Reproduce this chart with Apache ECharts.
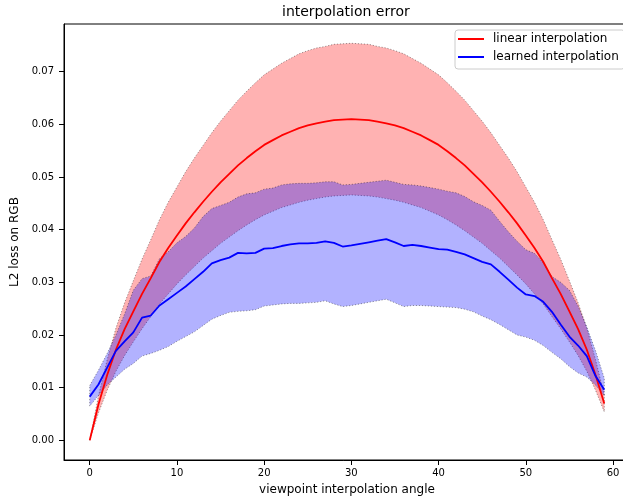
<!DOCTYPE html>
<html>
<head>
<meta charset="utf-8">
<script src="https://cdn.jsdelivr.net/npm/echarts@6/dist/echarts.min.js"></script>
<style>html,body{margin:0;padding:0;background:#fff}#c{width:623px;height:499px}</style>
</head>
<body>
<div id="c"></div>
<script>
const angles = Array.from({length: 60}, (_, i) => i);

const linearMean = [0,0.0068,0.0124,0.0172,0.0211,0.0245,0.0278,0.0308,0.0339,0.0365,
0.0389,0.0412,0.0433,0.0453,0.0472,0.0490,0.0506,0.0522,0.0536,0.0549,
0.0561,0.0570,0.0579,0.0586,0.0593,0.0598,0.0602,0.0605,0.0608,0.0609,
0.0610,0.0609,0.0608,0.0605,0.0602,0.0598,0.0593,0.0586,0.0579,0.0570,
0.0561,0.0549,0.0536,0.0522,0.0506,0.0490,0.0472,0.0453,0.0433,0.0412,
0.0389,0.0365,0.0339,0.0308,0.0278,0.0245,0.0211,0.0172,0.0124,0.0070];

const linearStd = [0,0.0016,0.0029,0.0041,0.0050,0.0058,0.0066,0.0073,0.0080,0.0087,
0.0092,0.0098,0.0103,0.0107,0.0112,0.0116,0.0120,0.0124,0.0127,0.0130,
0.0133,0.0135,0.0137,0.0139,0.0141,0.0142,0.0143,0.0143,0.0144,0.0144,
0.0144,0.0144,0.0144,0.0143,0.0143,0.0142,0.0141,0.0139,0.0137,0.0135,
0.0133,0.0130,0.0127,0.0124,0.0120,0.0116,0.0112,0.0107,0.0103,0.0098,
0.0092,0.0087,0.0080,0.0073,0.0066,0.0058,0.0050,0.0041,0.0029,0.0016];

const learnedMean = [0.0083,0.0106,0.0138,0.0170,0.0188,0.0205,0.0233,0.0237,0.0256,0.0268,
0.0280,0.0292,0.0306,0.0320,0.0336,0.0342,0.0347,0.0356,0.0355,0.0356,
0.0364,0.0365,0.0369,0.0372,0.0374,0.0374,0.0375,0.0378,0.0375,0.0368,
0.0370,0.0373,0.0376,0.0379,0.0382,0.0376,0.0369,0.0371,0.0369,0.0366,
0.0363,0.0362,0.0358,0.0353,0.0346,0.0339,0.0334,0.0320,0.0305,0.0290,
0.0277,0.0274,0.0263,0.0244,0.0220,0.0197,0.0180,0.0160,0.0122,0.0096];

const learnedUpper = [0.0104,0.0133,0.0165,0.0200,0.0240,0.0285,0.0307,0.0312,0.0345,0.0358,
0.0375,0.0387,0.0403,0.0425,0.0440,0.0446,0.0452,0.0462,0.0468,0.0470,
0.0477,0.0479,0.0485,0.0487,0.0488,0.0488,0.0489,0.0491,0.0491,0.0485,
0.0486,0.0488,0.0490,0.0492,0.0494,0.0490,0.0486,0.0485,0.0483,0.0480,
0.0477,0.0473,0.0470,0.0463,0.0453,0.0446,0.0437,0.0416,0.0396,0.0378,
0.0362,0.0355,0.0337,0.0311,0.0300,0.0285,0.0255,0.0215,0.0170,0.0118];

const learnedLower = [0.0065,0.0085,0.0105,0.0120,0.0135,0.0146,0.0160,0.0165,0.0171,0.0178,
0.0188,0.0197,0.0206,0.0218,0.0230,0.0237,0.0243,0.0245,0.0246,0.0248,
0.0255,0.0257,0.0259,0.0260,0.0260,0.0261,0.0262,0.0265,0.0259,0.0254,
0.0256,0.0259,0.0262,0.0265,0.0268,0.0261,0.0254,0.0256,0.0256,0.0255,
0.0254,0.0253,0.0252,0.0249,0.0244,0.0236,0.0229,0.0220,0.0210,0.0200,
0.0196,0.0190,0.0180,0.0167,0.0155,0.0140,0.0128,0.0120,0.0105,0.0085];

const xTicks = [0, 10, 20, 30, 40, 50, 60];
const yTicks = [0, 0.01, 0.02, 0.03, 0.04, 0.05, 0.06, 0.07];

const FONT = 'DejaVu Sans';
const pts = arr => angles.map((x, i) => [x, arr[i]]);
const redRows = angles.map((x, i) => [x, linearMean[i] - linearStd[i], linearMean[i] + linearStd[i]]);
const blueRows = angles.map((x, i) => [x, learnedLower[i], learnedUpper[i]]);

function bandSeries(rows, fill) {
  return {
    type: 'custom', data: rows, silent: true, clip: true,
    encode: {x: 0, y: [1, 2]},
    renderItem: (params, api) => {
      if (params.dataIndex !== 0) return null;
      const up = rows.map(r => api.coord([r[0], r[2]]));
      const lo = rows.map(r => api.coord([r[0], r[1]]));
      const outline = up.concat(lo.slice().reverse());
      outline.push(up[0]);
      return {
        type: 'group',
        children: [
          {type: 'polygon', shape: {points: outline}, style: {fill: fill, stroke: null}},
          {type: 'polyline', shape: {points: outline},
            style: {fill: null, stroke: 'rgba(0,0,0,0.55)', lineWidth: 0.7, lineDash: [1.2, 1.8]}}
        ]
      };
    }
  };
}

const chart = echarts.init(document.getElementById('c'), null, {renderer: 'canvas'});
chart.setOption({
  animation: false,
  backgroundColor: '#fff',
  title: {
    text: 'interpolation error', left: 282, top: 5, padding: 0,
    textStyle: {fontFamily: FONT, fontSize: 14, fontWeight: 'normal', color: '#000'}
  },
  legend: {
    data: ['linear interpolation', 'learned interpolation'],
    orient: 'vertical', left: 455, top: 30,
    padding: [2, 6, 5, 3], itemGap: 4,
    icon: 'rect', itemWidth: 26, itemHeight: 2,
    backgroundColor: 'rgba(255,255,255,0.8)',
    borderColor: '#cccccc', borderWidth: 1, borderRadius: 3,
    textStyle: {fontFamily: FONT, fontSize: 12, color: '#000', lineHeight: 14, padding: [0, 0, 0, 4]}
  },
  grid: {left: 64, right: -7, top: 24, bottom: 39, show: true, borderColor: '#000', borderWidth: 1,
    containLabel: false, outerBoundsMode: 'none'},
  xAxis: {
    type: 'value', min: -2.95, max: 61.95,
    name: 'viewpoint interpolation angle', nameLocation: 'middle', nameGap: 24,
    nameTextStyle: {fontFamily: FONT, fontSize: 12, color: '#000'},
    axisLine: {show: true, onZero: false, lineStyle: {color: '#000', width: 1}},
    axisTick: {show: true, customValues: xTicks, length: 5, lineStyle: {color: '#000'}},
    axisLabel: {customValues: xTicks, margin: 8, fontFamily: FONT, fontSize: 10, color: '#000'},
    splitLine: {show: false}
  },
  yAxis: {
    type: 'value', min: -0.00374, max: 0.07906,
    name: 'L2 loss on RGB', nameLocation: 'middle', nameGap: 39,
    nameTextStyle: {fontFamily: FONT, fontSize: 12, color: '#000'},
    axisLine: {show: true, onZero: false, lineStyle: {color: '#000', width: 1}},
    axisTick: {show: true, customValues: yTicks, length: 5, lineStyle: {color: '#000'}},
    axisLabel: {customValues: yTicks, margin: 10, fontFamily: FONT, fontSize: 10, color: '#000',
      formatter: v => v.toFixed(2)},
    splitLine: {show: false}
  },
  series: [
    bandSeries(redRows, 'rgba(255,0,0,0.3)'),
    bandSeries(blueRows, 'rgba(0,0,255,0.3)'),
    {name: 'linear interpolation', type: 'line', data: pts(linearMean), symbol: 'none',
      color: '#ff0000', lineStyle: {color: '#ff0000', width: 1.8}},
    {name: 'learned interpolation', type: 'line', data: pts(learnedMean), symbol: 'none',
      color: '#0000ff', lineStyle: {color: '#0000ff', width: 1.8}}
  ]
});
</script>
</body>
</html>
